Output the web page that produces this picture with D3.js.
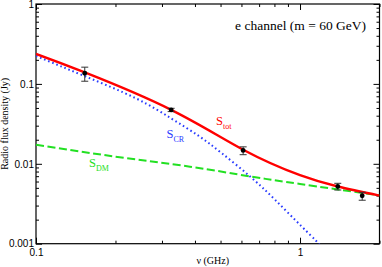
<!DOCTYPE html>
<html>
<head>
<meta charset="utf-8">
<script src="https://cdn.jsdelivr.net/npm/d3@7"></script>
<style>
  html, body { margin: 0; padding: 0; background: #fff; }
  svg { display: block; font-family: "Liberation Serif", "Times New Roman", serif; }
  .axis text { font-size: 10px; fill: #000; }
  .axis line { stroke: #000; stroke-width: 1; }
</style>
</head>
<body>
<div id="chart"></div>
<script>
// e channel, m = 60 GeV : radio flux density vs frequency

// frequencies (GHz) / flux (Jy)
const totNu   = [0.1, 0.153, 0.325, 0.609, 1.0, 1.39, 2.0];
const totFlux = [0.237, 0.139, 0.0473, 0.015, 0.0072, 0.0052, 0.004];

const crNu   = [0.1, 0.153, 0.239, 0.325, 0.412, 0.505, 0.647, 0.804, 1.015, 1.14, 1.2];
const crFlux = [0.224, 0.125, 0.066, 0.037, 0.0225, 0.0136, 0.00694, 0.00355, 0.00164, 0.00112, 0.00093];

const dmNu   = [0.1, 0.2, 0.383, 0.647, 1.0, 2.0];
const dmFlux = [0.0173, 0.0123, 0.0092, 0.00695, 0.00559, 0.00402];

// measured points with error bars
const obsNu  = [0.153, 0.325, 0.609, 1.39, 1.72];
const obsVal = [0.136, 0.0473, 0.0147, 0.0052, 0.00398];
const obsLo  = [0.108, 0.045, 0.013, 0.0047, 0.0035];
const obsHi  = [0.162, 0.0495, 0.0163, 0.0057, 0.0044];

const xMajor = [0.1, 1];
const xMinor = [0.2, 0.3, 0.4, 0.5, 0.6, 0.7, 0.8, 0.9, 2];
const yMajor = [0.001, 0.01, 0.1, 1];
const yMinor = [2, 3, 4, 5, 6, 7, 8, 9].flatMap(m => [0.001, 0.01, 0.1].map(d => m * d));

const W = 382, H = 267;
const L = 36, R = 379.5, T = 4, B = 243.7;

const svg = d3.select("#chart").append("svg").attr("width", W).attr("height", H);

const x = d3.scaleLog().domain([0.1, 2]).range([L, R]);
const y = d3.scaleLog().domain([0.001, 1]).range([B, T]);

svg.append("defs").append("clipPath").attr("id", "clip")
  .append("rect").attr("x", L).attr("y", T).attr("width", R - L).attr("height", B - T);

/* ---------- axes (ticks inside) ---------- */
function drawAxis(axisFn, scale, transform, vals, size, labels) {
  const a = axisFn(scale).tickValues(vals).tickSize(-size)
    .tickFormat(labels ? d => String(d) : () => "");
  const g = svg.append("g").attr("class", "axis").attr("transform", transform).call(a);
  g.select(".domain").remove();
  return g;
}
drawAxis(d3.axisBottom, x, `translate(0,${B})`, xMajor, 6, true).selectAll("text").attr("y", 5);
drawAxis(d3.axisBottom, x, `translate(0,${B})`, xMinor, 3, false);
drawAxis(d3.axisTop, x, `translate(0,${T})`, xMajor, 6, false);
drawAxis(d3.axisTop, x, `translate(0,${T})`, xMinor, 3, false);
drawAxis(d3.axisLeft, y, `translate(${L},0)`, yMajor, 6, true).selectAll("text").attr("x", -2);
drawAxis(d3.axisLeft, y, `translate(${L},0)`, yMinor, 3, false);
drawAxis(d3.axisRight, y, `translate(${R},0)`, yMajor, 6, false);
drawAxis(d3.axisRight, y, `translate(${R},0)`, yMinor, 3, false);

svg.append("rect")
  .attr("x", L).attr("y", T).attr("width", R - L).attr("height", B - T)
  .attr("fill", "none").attr("stroke", "#000").attr("stroke-width", 1.2);

/* ---------- curves ---------- */
const line = d3.line().x(d => x(d[0])).y(d => y(d[1])).curve(d3.curveNatural);
const plot = svg.append("g").attr("clip-path", "url(#clip)");

plot.append("path").datum(d3.zip(dmNu, dmFlux)).attr("d", line)
  .attr("fill", "none").attr("stroke", "#22e022").attr("stroke-width", 2)
  .attr("stroke-dasharray", "8,3.5");

plot.append("path").datum(d3.zip(crNu, crFlux)).attr("d", line)
  .attr("fill", "none").attr("stroke", "#2a3cff").attr("stroke-width", 2)
  .attr("stroke-dasharray", "1.6,2.8");

plot.append("path").datum(d3.zip(totNu, totFlux)).attr("d", line)
  .attr("fill", "none").attr("stroke", "#ff0000").attr("stroke-width", 2.4);

/* ---------- data points ---------- */
const obs = obsNu.map((nu, i) => ({ nu, v: obsVal[i], lo: obsLo[i], hi: obsHi[i] }));
const pts = svg.append("g").selectAll("g").data(obs).join("g");
pts.append("line")
  .attr("x1", d => x(d.nu)).attr("x2", d => x(d.nu))
  .attr("y1", d => y(d.lo)).attr("y2", d => y(d.hi))
  .attr("stroke", "#333").attr("stroke-width", 1);
[d => d.lo, d => d.hi].forEach(f => {
  pts.append("line")
    .attr("x1", d => x(d.nu) - 3.5).attr("x2", d => x(d.nu) + 3.5)
    .attr("y1", d => y(f(d))).attr("y2", d => y(f(d)))
    .attr("stroke", "#333").attr("stroke-width", 1);
});
pts.append("circle")
  .attr("cx", d => x(d.nu)).attr("cy", d => y(d.v)).attr("r", 2.4)
  .attr("fill", "#000");

/* ---------- labels ---------- */
function subLabel(px, py, main, sub, color) {
  const t = svg.append("text").attr("x", px).attr("y", py).attr("fill", color).attr("font-size", 12.5);
  t.append("tspan").text(main);
  t.append("tspan").attr("font-size", 8).attr("dy", 3.5).text(sub);
}
subLabel(216, 125, "S", "tot", "#ff0000");
subLabel(166.5, 138, "S", "CR", "#2a3cff");
subLabel(89, 167, "S", "DM", "#22e022");

svg.append("text")
  .attr("x", 366).attr("y", 30).attr("text-anchor", "end")
  .attr("font-size", 13.5).attr("fill", "#000")
  .text("e channel (m = 60 GeV)");

svg.append("text")
  .attr("x", (L + R) / 2 + 5).attr("y", 264).attr("text-anchor", "middle")
  .attr("font-size", 10).attr("fill", "#000")
  .text("ν (GHz)");

svg.append("text")
  .attr("transform", `translate(8,${(T + B) / 2}) rotate(-90)`)
  .attr("text-anchor", "middle").attr("font-size", 10).attr("fill", "#000")
  .text("Radio flux density (Jy)");
</script>
</body>
</html>
